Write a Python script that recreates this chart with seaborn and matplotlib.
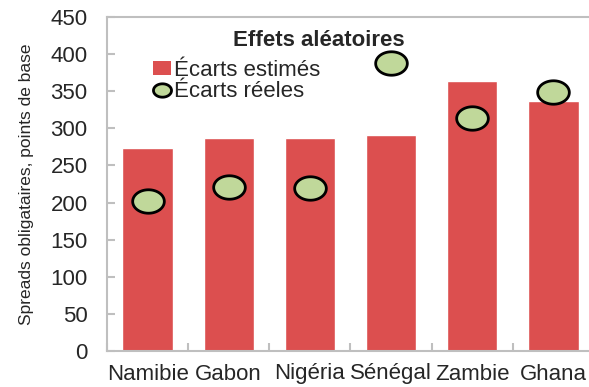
import numpy as np
import pandas as pd
import matplotlib
matplotlib.use("Agg")
import matplotlib.pyplot as plt
from matplotlib.path import Path
from matplotlib.patches import Patch
from matplotlib.lines import Line2D
import seaborn as sns

countries = ["Namibie", "Gabon", "Nigéria", "Sénégal", "Zambie", "Ghana"]
estimated = [273, 287, 287, 291, 364, 337]
actual = [202, 221, 219, 388, 314, 349]

sns.set_theme(style="white")
plt.rcParams["font.family"] = ["Liberation Sans", "DejaVu Sans"]

df = pd.DataFrame({"pays": countries, "estime": estimated, "reel": actual})

fig = plt.figure(figsize=(5.89, 3.87), dpi=100)
ax = fig.add_axes([107 / 589, 1 - 351 / 387, (594 - 107) / 589, (351 - 17) / 387])

bar_color = "#dc4f4f"
dot_color = "#c0d89a"

sns.barplot(data=df, x="pays", y="estime", color=bar_color, saturation=1,
            width=0.62, ax=ax, zorder=2)

# elliptical marker, wider than tall
t = np.linspace(0, 2 * np.pi, 60)
ellipse = Path(np.column_stack([1.35 * np.cos(t), np.sin(t)]), closed=True)

sns.scatterplot(data=df, x="pays", y="reel", marker=ellipse, s=520,
                color=dot_color, edgecolor="black", linewidth=2, ax=ax,
                zorder=3, legend=False)

ax.set_ylim(0, 450)
ax.set_xlim(-0.5, 5.5)
ax.set_yticks(range(0, 451, 50))
ax.set_xlabel("")
ax.set_ylabel("Spreads obligataires, points de base",
              family=["Liberation Sans Narrow", "Liberation Sans"], fontsize=12.5)
ax.yaxis.set_label_coords(-0.15, 0.5)

for s in ax.spines.values():
    s.set_color("#bfbfbf")
    s.set_linewidth(1.5)

ax.tick_params(axis="y", direction="in", length=6, width=1.5, color="#bfbfbf",
               labelsize=16, pad=14, left=True)
ax.set_xticks(np.arange(6))
ax.set_xticklabels(countries, fontsize=16)
ax.set_xticks(np.arange(-0.5, 6, 1), minor=True)
ax.tick_params(axis="x", which="major", length=0, pad=9)
ax.tick_params(axis="x", which="minor", direction="in", length=6, width=1.5,
               color="#bfbfbf", bottom=True)

fig.text(319 / 589, 1 - 41 / 387, "Effets aléatoires", ha="center", va="center",
         fontsize=16, fontweight="bold")

handles = [
    Patch(facecolor=bar_color, edgecolor="none"),
    Line2D([], [], linestyle="none", marker=ellipse, markersize=13,
           markerfacecolor=dot_color, markeredgecolor="black", markeredgewidth=2),
]
ax.legend(handles, ["Écarts estimés", "Écarts réeles"], loc="upper left",
          bbox_to_anchor=(0.0945, 0.871), frameon=False, fontsize=16,
          handlelength=0.8, handleheight=0.6, handletextpad=0.15,
          labelspacing=0.0, borderpad=0.0, borderaxespad=0.0)

fig.savefig("out.png", dpi=100)
